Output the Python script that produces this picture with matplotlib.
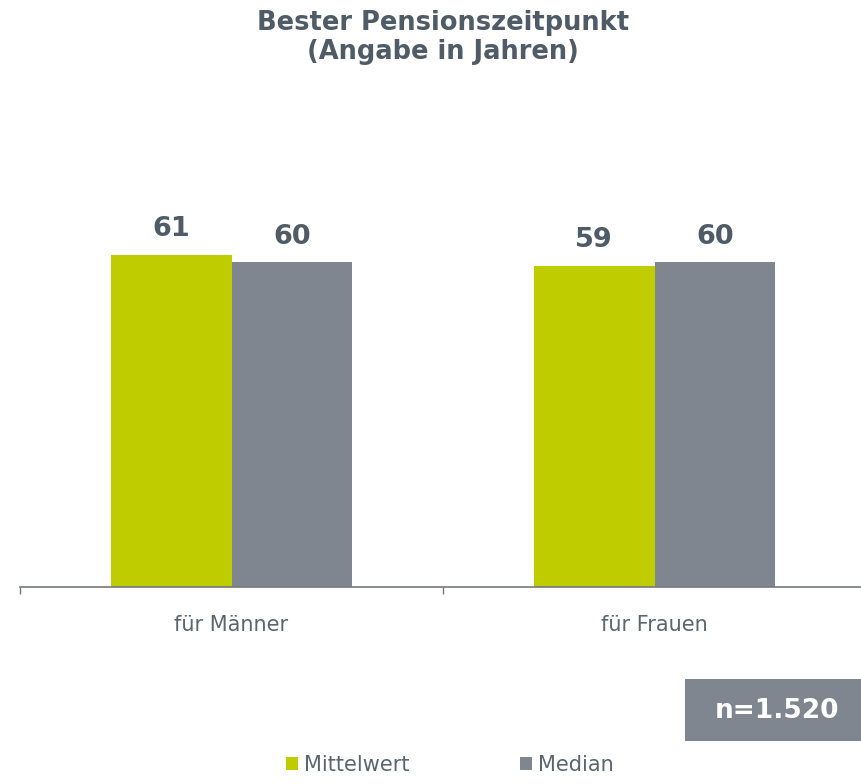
import matplotlib
matplotlib.use("Agg")
import matplotlib.pyplot as plt
from matplotlib.patches import Patch, Rectangle

categories = ["für Männer", "für Frauen"]
series_names = ["Mittelwert", "Median"]
mittelwert = [61.3, 59.3]
median = [60.0, 60.0]
title_lines = ["Bester Pensionszeitpunkt", "(Angabe in Jahren)"]
n_text = "n=1.520"

green = "#BFCC00"
grey = "#80868F"
textcol = "#4F5B66"
labelcol = "#5A6570"

plt.rcParams['font.family'] = ['DejaVu Sans']

W, H = 861, 784
fig = plt.figure(figsize=(W / 100, H / 100), dpi=100)
ax = fig.add_axes([20 / W, (H - 587) / H, 846 / W, 433 / H])

x = [0, 1]
bw = 0.286
b1 = ax.bar([i - bw / 2 for i in x], mittelwert, width=bw, color=green, label=series_names[0])
b2 = ax.bar([i + bw / 2 for i in x], median, width=bw, color=grey, label=series_names[1])

for bars, vals in ((b1, mittelwert), (b2, median)):
    for r, v in zip(bars, vals):
        ax.annotate(f"{round(v):d}", (r.get_x() + r.get_width() / 2, r.get_height()),
                    xytext=(0, 13.5), textcoords="offset points", ha="center", va="baseline",
                    fontsize=19.5, fontweight="bold", color=textcol)

ax.set_xlim(-0.5, 1.5)
ax.set_ylim(0, 80)
for s in ("top", "right", "left"):
    ax.spines[s].set_visible(False)
ax.spines["bottom"].set_color("#74797F")
ax.spines["bottom"].set_linewidth(1.2)
ax.set_yticks([])
ax.set_xticks([-0.5, 0.5, 1.5])
ax.set_xticklabels([])
ax.tick_params(axis="x", which="major", length=5, color="#74797F", width=1)
ax.set_xticks(x, minor=True)
ax.set_xticklabels(categories, minor=True)
ax.tick_params(axis="x", which="minor", length=0, pad=20, labelsize=15, labelcolor=labelcol)

fig.text(443 / W, 1 - 29.5 / H, title_lines[0], ha="center", va="baseline",
         fontsize=18.5, fontweight="bold", color=textcol)
fig.text(443 / W, 1 - 59 / H, title_lines[1], ha="center", va="baseline",
         fontsize=18.5, fontweight="bold", color=textcol)

fig.patches.append(Rectangle((685 / W, (H - 741) / H), 176 / W, 62 / H,
                             transform=fig.transFigure, facecolor=grey, edgecolor="none"))
fig.text(777 / W, 1 - 711 / H, n_text, ha="center", va="center",
         fontsize=19, fontweight="bold", color="white")

handles = [Patch(facecolor=green, edgecolor="none"), Patch(facecolor=grey, edgecolor="none")]
leg = fig.legend(handles, series_names, loc="center", bbox_to_anchor=(450 / W, 1 - 765 / H),
                 ncol=2, frameon=False, fontsize=15, handlelength=0.58, handleheight=0.58,
                 handletextpad=0.3, columnspacing=5.3, borderaxespad=0)
for t in leg.get_texts():
    t.set_color(labelcol)

fig.savefig("out.png", dpi=100)
